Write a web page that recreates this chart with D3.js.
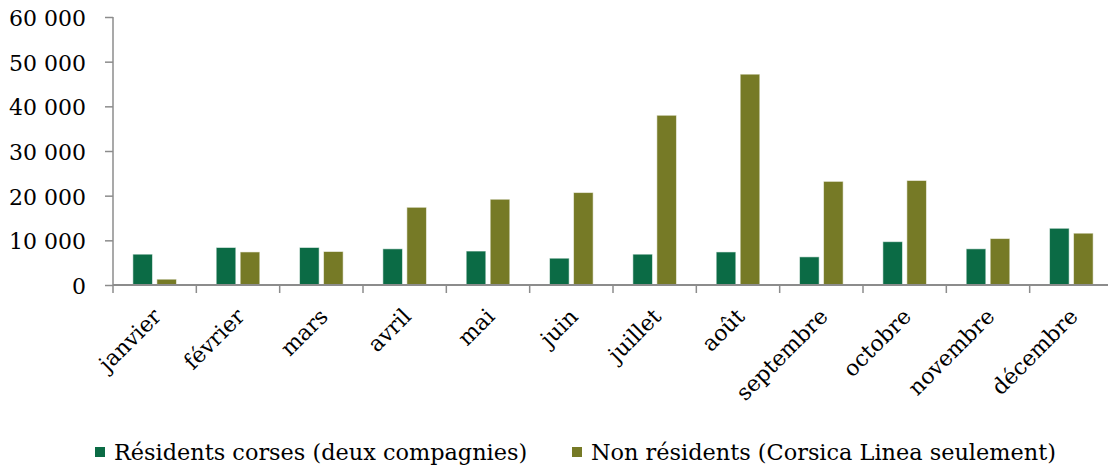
<!DOCTYPE html>
<html>
<head>
<meta charset="utf-8">
<script src="https://cdn.jsdelivr.net/npm/d3@7"></script>
<style>
  body { margin: 0; background: #fff; }
  svg text { font-family: "DejaVu Serif", serif; fill: #000; }
</style>
</head>
<body>
<div id="chart"></div>
<script>
// data
const months = ["janvier", "février", "mars", "avril", "mai", "juin", "juillet", "août", "septembre", "octobre", "novembre", "décembre"];
const seriesNames = ["Résidents corses (deux compagnies)", "Non résidents (Corsica Linea seulement)"];
const residents = [6900, 8400, 8400, 8100, 7600, 6000, 6900, 7400, 6300, 9700, 8100, 12700];
const nonResidents = [1300, 7400, 7500, 17400, 19200, 20700, 38000, 47200, 23200, 23400, 10400, 11600];
const yTicks = [0, 10000, 20000, 30000, 40000, 50000, 60000];
const colors = ["#0b6b45", "#767a26"];

const W = 1108, H = 467;
const plotLeft = 113, plotRight = 1113, plotTop = 17, plotBottom = 285;

const svg = d3.select("#chart").append("svg")
  .attr("width", W).attr("height", H);

const x = d3.scaleBand().domain(months).range([plotLeft, plotRight]);
const xs = d3.scaleBand().domain([0, 1]).range([0, x.bandwidth()])
  .paddingInner(0.183).paddingOuter(0.828);
const y = d3.scaleLinear().domain([0, 60000]).range([plotBottom, plotTop]);

const fr = d3.formatLocale({ decimal: ",", thousands: " ", grouping: [3], currency: ["", " €"] });

// y axis
const yAxis = svg.append("g")
  .attr("transform", `translate(${plotLeft},0)`)
  .call(d3.axisLeft(y).tickValues(yTicks).tickFormat(fr.format(",")).tickSize(8).tickPadding(19));
yAxis.select(".domain").remove();
yAxis.selectAll(".tick line").attr("stroke", "#8c8c8c").attr("stroke-width", 1.5);
yAxis.selectAll(".tick text").attr("font-size", 22).attr("dy", "0.38em");
yAxis.append("line")
  .attr("x1", 0).attr("x2", 0).attr("y1", plotTop).attr("y2", plotBottom + 8)
  .attr("stroke", "#8c8c8c").attr("stroke-width", 1.5);

// bars
const data = months.map((m, i) => ({ m, vals: [residents[i], nonResidents[i]] }));
const grp = svg.append("g").selectAll("g").data(data).join("g")
  .attr("transform", d => `translate(${x(d.m)},0)`);
grp.selectAll("rect").data(d => d.vals).join("rect")
  .attr("x", (d, i) => xs(i))
  .attr("width", xs.bandwidth())
  .attr("y", d => y(d))
  .attr("height", d => y(0) - y(d))
  .attr("fill", (d, i) => colors[i])
  .attr("stroke", "#ffffff").attr("stroke-opacity", 0.55).attr("stroke-width", 1);

// x axis
const xAxis = svg.append("g")
  .attr("transform", `translate(0,${plotBottom})`);
xAxis.append("line")
  .attr("x1", plotLeft).attr("x2", W).attr("y1", 0).attr("y2", 0)
  .attr("stroke", "#8c8c8c").attr("stroke-width", 2);
xAxis.selectAll(".xt").data(months.slice(1)).join("line")
  .attr("class", "xt")
  .attr("x1", d => x(d)).attr("x2", d => x(d))
  .attr("y1", 0).attr("y2", 8)
  .attr("stroke", "#8c8c8c").attr("stroke-width", 1.5);
xAxis.selectAll(".xl").data(months).join("text")
  .attr("class", "xl")
  .attr("font-size", 22)
  .attr("text-anchor", "end")
  .attr("transform", d => `translate(${x(d) + x.bandwidth() / 2 - 3},${22}) rotate(-45)`)
  .attr("dy", "0.7em")
  .text(d => d);

// legend
const legendX = [95, 572];
const legend = svg.append("g").selectAll("g").data(seriesNames).join("g")
  .attr("transform", (d, i) => `translate(${legendX[i]},447)`);
legend.append("rect").attr("width", 10).attr("height", 10)
  .attr("fill", (d, i) => colors[i]);
legend.append("text").attr("x", 19).attr("y", 13).attr("font-size", 22.4).text(d => d);
</script>
</body>
</html>
